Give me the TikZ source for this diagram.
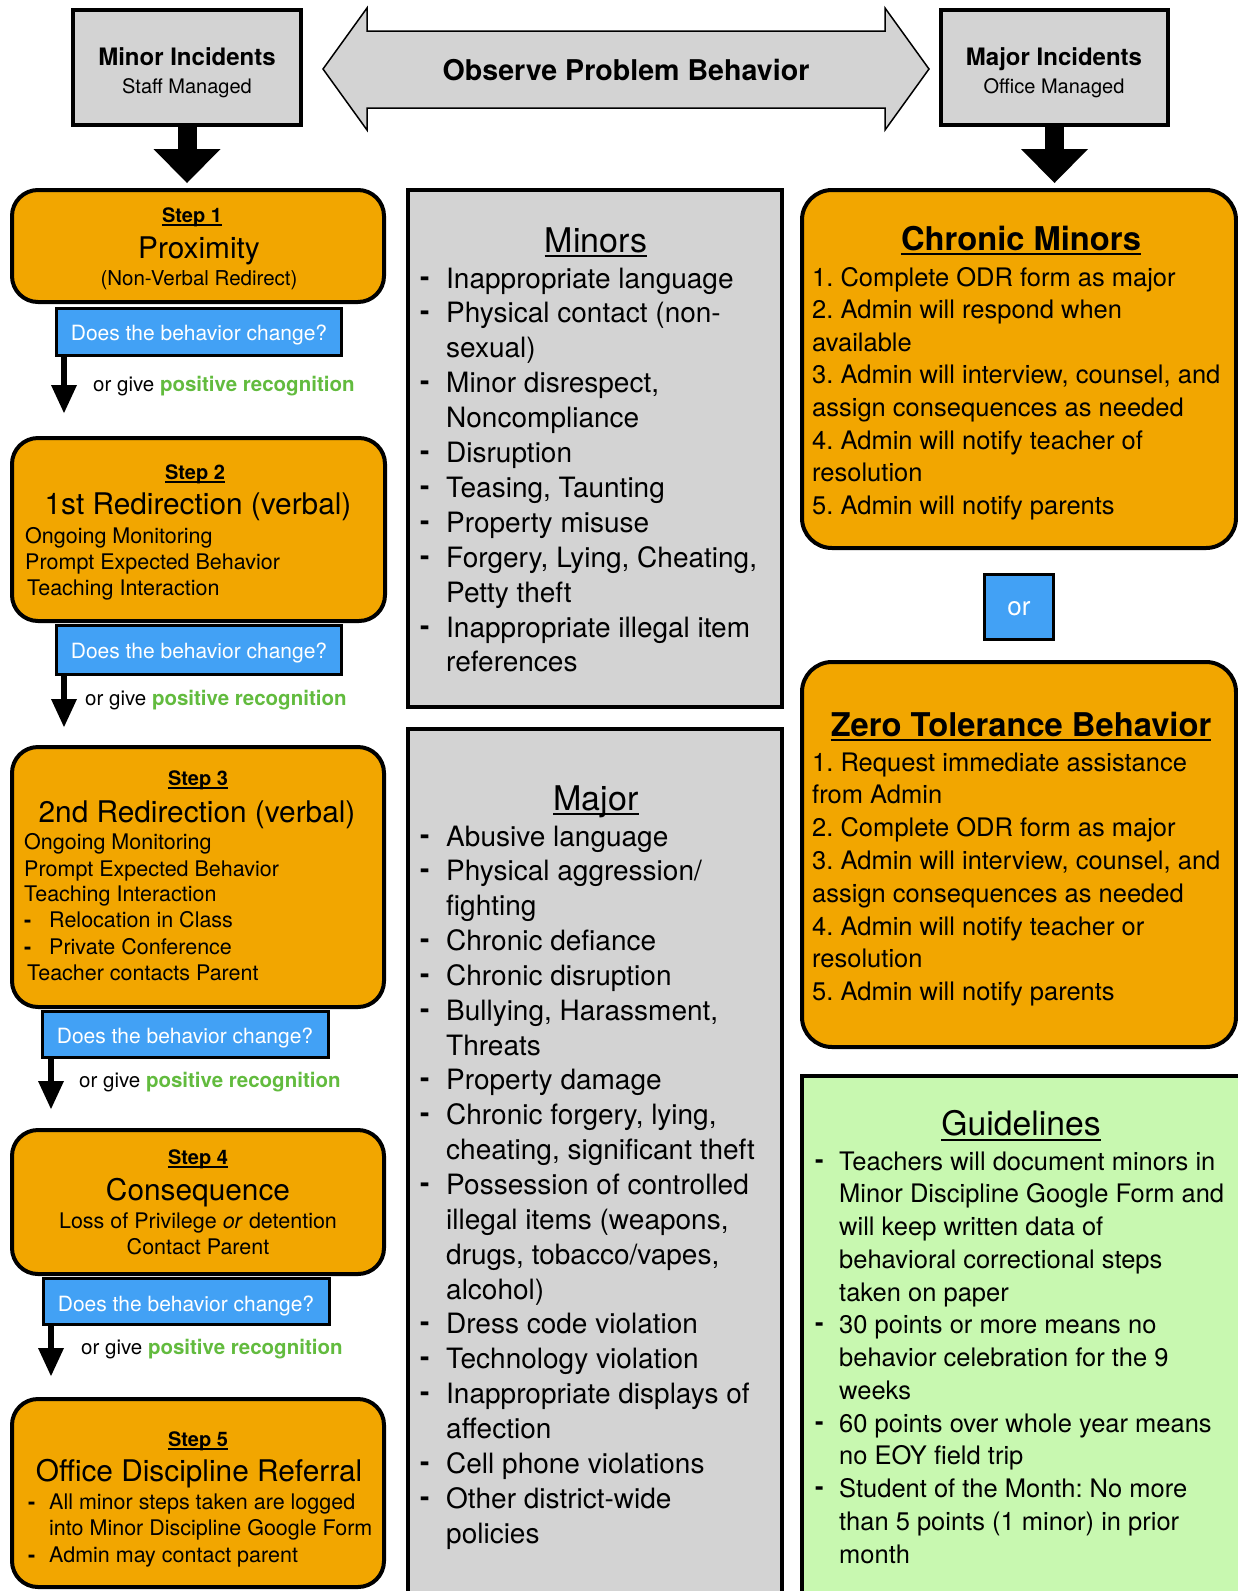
\documentclass[tikz,border=0pt]{standalone}
\usepackage{fontspec}
\setmainfont{TeX Gyre Heros}
\usetikzlibrary{arrows.meta}
\definecolor{steporange}{RGB}{242,166,0}
\definecolor{boxgray}{RGB}{211,211,211}
\definecolor{askblue}{RGB}{66,161,245}
\definecolor{recog}{RGB}{98,187,62}
\definecolor{guidegreen}{RGB}{200,248,176}
\newcommand\fsz[2]{\fontsize{#1}{#2}\selectfont}
\newcommand\orgive{or give \textcolor{recog}{\bfseries positive recognition}}
\frenchspacing
\begin{document}
\begin{tikzpicture}[x=1pt,y=-1pt,
  boxframe/.style={draw, line width=4pt, inner sep=0pt, outer sep=0pt, anchor=north west},
  stepbox/.style={boxframe, fill=steporange, rounded corners=26pt},
  graybox/.style={boxframe, fill=boxgray},
  askbox/.style={draw, line width=3pt, fill=askblue, inner sep=0pt, outer sep=0pt, anchor=north west},
  tc/.style={inner sep=0pt, anchor=base},
  tl/.style={inner sep=0pt, anchor=base west},
  steplabel/.style={tc, font=\fsz{20}{24}\bfseries},
  steptitle/.style={tc, font=\fsz{29.8}{34}},
  stepline/.style={tl, font=\fsz{21.5}{26}},
  stepdash/.style={tl, font=\fsz{21.5}{26}\bfseries},
  asktext/.style={tc, text=white, font=\fsz{21}{24}},
  recogtext/.style={tl, font=\fsz{20.5}{24}},
  listfont/.style={tl, font=\fsz{28}{34}},
  listdash/.style={tl, font=\fsz{28}{34}\bfseries},
  rightfont/.style={tl, font=\fsz{25.5}{30}},
  rightdash/.style={tl, font=\fsz{25.5}{30}\bfseries},
  bigarrow/.style={line width=19pt, -{Triangle[width=67pt,length=34pt,line width=0pt]}},
  smallarrow/.style={line width=6pt, -{Triangle[width=26pt,length=28pt,line width=0pt]}},
  uline/.style={line width=1.6pt},
]
\useasboundingbox (0,0) rectangle (1238,1591);
\clip (0,0) rectangle (1238,1591);

% ---------- top row ----------
\node[graybox, minimum width=228pt, minimum height=115pt] (minorinc) at (73,10) {};
\node[tc, font=\fsz{24}{28}\bfseries] (minorinc1) at (187,65) {Minor Incidents};
\node[tc, font=\fsz{20}{24}] (minorinc2) at (187,93) {Staff Managed};

\node[graybox, minimum width=227pt, minimum height=115pt] (majorinc) at (941,10) {};
\node[tc, font=\fsz{24}{28}\bfseries] (majorinc1) at (1054,65) {Major Incidents};
\node[tc, font=\fsz{20}{24}] (majorinc2) at (1054,93) {Office Managed};

\draw[line width=1.5pt, fill=boxgray] (323,69) -- (367,8) -- (367,31) -- (885,31) -- (885,8)
  -- (929,69) -- (885,130) -- (885,108) -- (367,108) -- (367,130) -- cycle;
\node[tc, font=\fsz{28.6}{32}\bfseries] (observe) at (626,80) {Observe Problem Behavior};

\coordinate (mtip) at (187,183);
\draw[bigarrow] (minorinc.south) -- (mtip);
\coordinate (jtip) at (1054.5,183);
\draw[bigarrow] (majorinc.south) -- (jtip);

% ---------- left column ----------
\node[stepbox, minimum width=372pt, minimum height=112pt] (s1) at (12,190) {};
\node[steplabel] (s1lab) at (192,222) {Step 1};
\draw[uline] ([yshift=-3pt]s1lab.base west) -- ([yshift=-3pt]s1lab.base east);
\node[steptitle] (s1tit) at (199,258) {Proximity};
\node[tc, font=\fsz{20.5}{24}] (s1sub) at (199,285) {(Non-Verbal Redirect)};
\node[askbox, minimum width=285pt, minimum height=47pt] (b1) at (56,308) {};
\node[asktext] (q1) at (199,340) {Does the behavior change?};
\coordinate (a1) at (64,413);
\draw[smallarrow] (b1.south -| a1) -- (a1);
\node[recogtext] (r1) at (93,391) {\orgive};

\node[stepbox, minimum width=373pt, minimum height=183pt] (s2) at (12,438) {};
\node[steplabel] (s2lab) at (195,479) {Step 2};
\draw[uline] ([yshift=-3pt]s2lab.base west) -- ([yshift=-3pt]s2lab.base east);
\node[steptitle] (s2tit) at (198,514) {1st Redirection (verbal)};
\node[stepline] (s2l1) at (25,543) {Ongoing Monitoring};
\node[stepline] (s2l2) at (25,569) {Prompt Expected Behavior};
\node[stepline] (s2l3) at (27,595) {Teaching Interaction};
\node[askbox, minimum width=285pt, minimum height=49pt] (b2) at (56,625) {};
\node[asktext] (q2) at (199,658) {Does the behavior change?};
\coordinate (a2) at (64,727);
\draw[smallarrow] (b2.south -| a2) -- (a2);
\node[recogtext] (r2) at (85,705) {\orgive};

\node[stepbox, minimum width=372pt, minimum height=260pt] (s3) at (12,747) {};
\node[steplabel] (s3lab) at (198,785) {Step 3};
\draw[uline] ([yshift=-3pt]s3lab.base west) -- ([yshift=-3pt]s3lab.base east);
\node[steptitle] (s3tit) at (197,822) {2nd Redirection (verbal)};
\node[stepline] (s3l1) at (24,849) {Ongoing Monitoring};
\node[stepline] (s3l2) at (24,876) {Prompt Expected Behavior};
\node[stepline] (s3l3) at (24,901) {Teaching Interaction};
\node[stepdash] (s3d4) at (24,927) {-};
\node[stepline] (s3l4) at (49,927) {Relocation in Class};
\node[stepdash] (s3d5) at (24,954) {-};
\node[stepline] (s3l5) at (49,954) {Private Conference};
\node[stepline] (s3l6) at (27,980) {Teacher contacts Parent};
\node[askbox, minimum width=286pt, minimum height=46pt] (b3) at (42,1011) {};
\node[asktext] (q3) at (185,1043) {Does the behavior change?};
\coordinate (a3) at (51,1109);
\draw[smallarrow] (b3.south -| a3) -- (a3);
\node[recogtext] (r3) at (79,1087) {\orgive};

\node[stepbox, minimum width=372pt, minimum height=144pt] (s4) at (12,1130) {};
\node[steplabel] (s4lab) at (198,1164) {Step 4};
\draw[uline] ([yshift=-3pt]s4lab.base west) -- ([yshift=-3pt]s4lab.base east);
\node[steptitle] (s4tit) at (198,1200) {Consequence};
\node[tc, font=\fsz{21.5}{26}] (s4l1) at (198,1228) {Loss of Privilege \textit{or} detention};
\node[tc, font=\fsz{21.5}{26}] (s4l2) at (198,1254) {Contact Parent};
\node[askbox, minimum width=286pt, minimum height=46pt] (b4) at (43,1278) {};
\node[asktext] (q4) at (186,1311) {Does the behavior change?};
\coordinate (a4) at (51,1376);
\draw[smallarrow] (b4.south -| a4) -- (a4);
\node[recogtext] (r4) at (81,1354) {\orgive};

\node[stepbox, minimum width=372pt, minimum height=188pt] (s5) at (12,1399) {};
\node[steplabel] (s5lab) at (198,1446) {Step 5};
\draw[uline] ([yshift=-3pt]s5lab.base west) -- ([yshift=-3pt]s5lab.base east);
\node[steptitle] (s5tit) at (199,1481) {Office Discipline Referral};
\node[stepdash] (s5d1) at (28,1509) {-};
\node[stepline] (s5l1) at (49,1509) {All minor steps taken are logged};
\node[stepline] (s5l2) at (49,1535) {into Minor Discipline Google Form};
\node[stepdash] (s5d3) at (28,1562) {-};
\node[stepline] (s5l3) at (49,1562) {Admin may contact parent};

% ---------- middle column ----------
\node[graybox, minimum width=374pt, minimum height=517pt] (minorsbox) at (408,190) {};
\node[tc, font=\fsz{34}{40}] (minorstit) at (596,252) {Minors};
\draw[line width=2pt] ([yshift=-4pt]minorstit.base west) -- ([yshift=-4pt]minorstit.base east);
\foreach \d/\txt [count=\i] in {1/{Inappropriate language}, 1/{Physical contact (non-}, 0/{sexual)},
  1/{Minor disrespect,}, 0/{Noncompliance}, 1/{Disruption}, 1/{Teasing, Taunting},
  1/{Property misuse}, 1/{Forgery, Lying, Cheating,}, 0/{Petty theft},
  1/{Inappropriate illegal item}, 0/{references}} {
  \node[listfont] (mn\i) at (446,{288+(\i-1)*34.9}) {\txt};
  \ifnum\d=1 \node[listdash] (mnd\i) at (420,{286+(\i-1)*34.9}) {-};\fi
}

\node[graybox, minimum width=374pt, minimum height=900pt] (majorbox) at (408,729) {};
\node[tc, font=\fsz{34}{40}] (majortit) at (596,810) {Major};
\draw[line width=2pt] ([yshift=-4pt]majortit.base west) -- ([yshift=-4pt]majortit.base east);
\foreach \d/\txt [count=\i] in {1/{Abusive language}, 1/{Physical aggression/}, 0/{fighting},
  1/{Chronic defiance}, 1/{Chronic disruption}, 1/{Bullying, Harassment,}, 0/{Threats},
  1/{Property damage}, 1/{Chronic forgery, lying,}, 0/{cheating, significant theft},
  1/{Possession of controlled}, 0/{illegal items (weapons,}, 0/{drugs, tobacco/vapes,},
  0/{alcohol)}, 1/{Dress code violation}, 1/{Technology violation},
  1/{Inappropriate displays of}, 0/{affection}, 1/{Cell phone violations},
  1/{Other district-wide}, 0/{policies}} {
  \node[listfont] (mj\i) at (446,{846+(\i-1)*34.85}) {\txt};
  \ifnum\d=1 \node[listdash] (mjd\i) at (420,{844+(\i-1)*34.85}) {-};\fi
}

% ---------- right column ----------
\node[stepbox, rounded corners=30pt, minimum width=434pt, minimum height=358pt] (chronic) at (802,190) {};
\node[tc, font=\fsz{32.7}{38}\bfseries] (chronictit) at (1021,250) {Chronic Minors};
\draw[line width=2pt] ([yshift=-4pt]chronictit.base west) -- ([yshift=-4pt]chronictit.base east);
\foreach \txt [count=\i] in {{1. Complete ODR form as major}, {2. Admin will respond when}, {available},
  {3. Admin will interview, counsel, and}, {assign consequences as needed},
  {4. Admin will notify teacher of}, {resolution}, {5. Admin will notify parents}} {
  \node[rightfont] (ch\i) at (812,{286+(\i-1)*32.6}) {\txt};
}

\node[askbox, minimum width=69pt, minimum height=65pt] (orbox) at (984,574) {};
\node[tc, text=white, font=\fsz{26}{30}] (ortext) at (1019,615) {or};

\node[stepbox, rounded corners=30pt, minimum width=434pt, minimum height=385pt] (zero) at (802,662) {};
\node[tc, font=\fsz{32.7}{38}\bfseries] (zerotit) at (1021,736) {Zero Tolerance Behavior};
\draw[line width=2pt] ([yshift=-4pt]zerotit.base west) -- ([yshift=-4pt]zerotit.base east);
\foreach \txt [count=\i] in {{1. Request immediate assistance}, {from Admin}, {2. Complete ODR form as major},
  {3. Admin will interview, counsel, and}, {assign consequences as needed},
  {4. Admin will notify teacher or}, {resolution}, {5. Admin will notify parents}} {
  \node[rightfont] (zt\i) at (812,{771+(\i-1)*32.8}) {\txt};
}

\node[boxframe, fill=guidegreen, minimum width=450pt, minimum height=560pt] (guide) at (802,1076) {};
\node[tc, font=\fsz{33.7}{40}] (guidetit) at (1021,1135.5) {Guidelines};
\draw[line width=2pt] ([yshift=-4pt]guidetit.base west) -- ([yshift=-4pt]guidetit.base east);
\foreach \d/\txt [count=\i] in {1/{Teachers will document minors in}, 0/{Minor Discipline Google Form and},
  0/{will keep written data of}, 0/{behavioral correctional steps}, 0/{taken on paper},
  1/{30 points or more means no}, 0/{behavior celebration for the 9}, 0/{weeks},
  1/{60 points over whole year means}, 0/{no EOY field trip},
  1/{Student of the Month: No more}, 0/{than 5 points (1 minor) in prior}, 0/{month}} {
  \node[rightfont] (gl\i) at (839,{1170+(\i-1)*32.75}) {\txt};
  \ifnum\d=1 \node[rightdash] (gld\i) at (815,{1168+(\i-1)*32.75}) {-};\fi
}
\end{tikzpicture}
\end{document}
